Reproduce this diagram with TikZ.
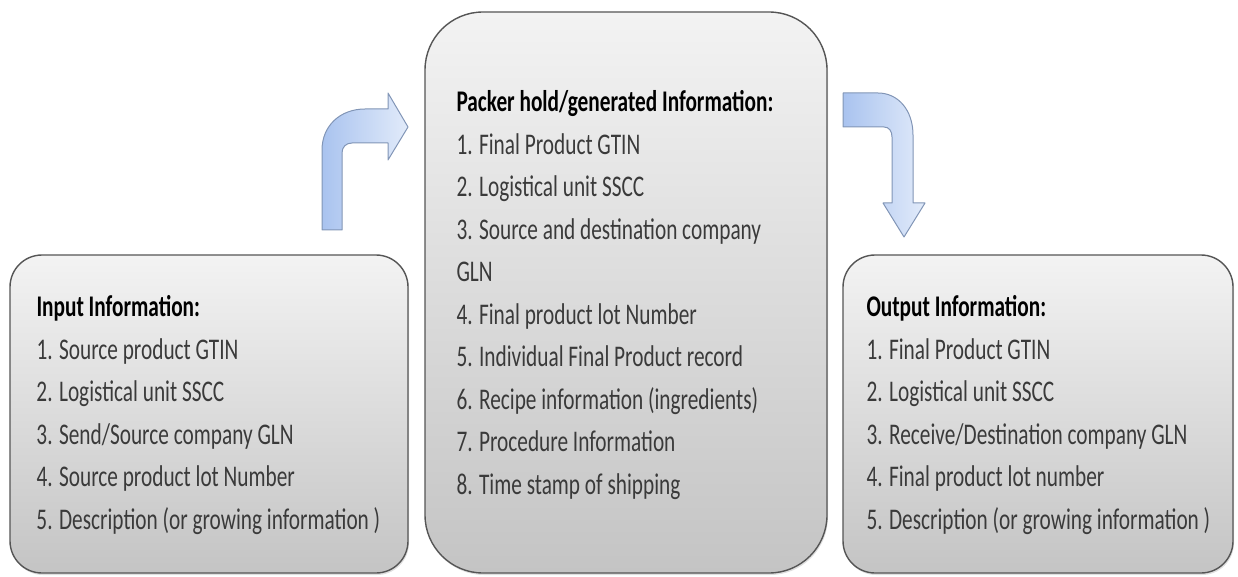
\documentclass[tikz,border=0pt]{standalone}
\usepackage{fontspec}
\setmainfont{Carlito}[FakeStretch=0.71]
\usetikzlibrary{positioning,shadows}
\definecolor{boxtop}{HTML}{F3F3F3}
\definecolor{boxbot}{HTML}{C4C4C4}
\definecolor{boxline}{HTML}{555555}
\definecolor{arrowdark}{HTML}{A9C3EF}
\definecolor{arrowlight}{HTML}{E2EBFA}
\definecolor{arrowline}{HTML}{8195B6}
\definecolor{itemgray}{HTML}{3A3A3A}
\tikzset{
  infobox/.style={draw=boxline, line width=1.4pt, top color=boxtop, bottom color=boxbot, inner sep=0pt,
    drop shadow={opacity=0.25, shadow xshift=1pt, shadow yshift=-2pt}},
  infotext/.style={anchor=base west, align=left, inner sep=0pt, text=itemgray,
    font=\fontsize{30}{42.5}\selectfont},
  bentarrow/.style={draw=arrowline, line width=1pt, left color=arrowdark, right color=arrowlight, line join=round}
}

\begin{document}
\begin{tikzpicture}[x=1pt, y=-1pt]
  \useasboundingbox (0,0) rectangle (1238,577);
  % the three information boxes
  \node[infobox, rounded corners=32pt, minimum width=398pt, minimum height=318pt] (inbox) at (209,414) {};
  \node[infobox, rounded corners=58pt, minimum width=402pt, minimum height=561pt] (packbox) at (626,292.5) {};
  \node[infobox, rounded corners=32pt, minimum width=390pt, minimum height=318pt] (outbox) at (1038,414) {};
  \node[infotext] (intext) at ([xshift=27pt, yshift=-275pt]inbox.north west)
    {\textcolor{black}{\textbf{Input Information:}}\\
     1. Source product GTIN\\
     2. Logistical unit SSCC\\
     3. Send/Source company GLN\\
     4. Source product lot Number\\
     5. Description (or growing information )};
  \node[infotext] (packtext) at ([xshift=32pt, yshift=-483pt]packbox.north west)
    {\textcolor{black}{\textbf{Packer hold/generated Information:}}\\
     1. Final Product GTIN\\
     2. Logistical unit SSCC\\
     3. Source and destination company\\
     GLN\\
     4. Final product lot Number\\
     5. Individual Final Product record\\
     6. Recipe information (ingredients)\\
     7. Procedure Information\\
     8. Time stamp of shipping};
  \node[infotext] (outtext) at ([xshift=24pt, yshift=-275pt]outbox.north west)
    {\textcolor{black}{\textbf{Output Information:}}\\
     1. Final Product GTIN\\
     2. Logistical unit SSCC\\
     3. Receive/Destination company GLN\\
     4. Final product lot number\\
     5. Description (or growing information )};
  % bent block arrows
  \draw[bentarrow] (322,230) -- (322,150) .. controls (322,126) and (340,109) .. (365,109)
    -- (388,109) -- (388,93) -- (408,127) -- (388,160) -- (388,143) -- (352,143)
    .. controls (346,143) and (342,147) .. (342,153) -- (342,230) -- cycle;
  \draw[bentarrow] (843,93) -- (878,93) .. controls (898,93) and (913,110) .. (913,135)
    -- (913,203) -- (925,203) -- (904,237) -- (883,203) -- (892,203) -- (892,137)
    .. controls (892,131) and (889,127) .. (884,127) -- (843,127) -- cycle;
\end{tikzpicture}
\end{document}
